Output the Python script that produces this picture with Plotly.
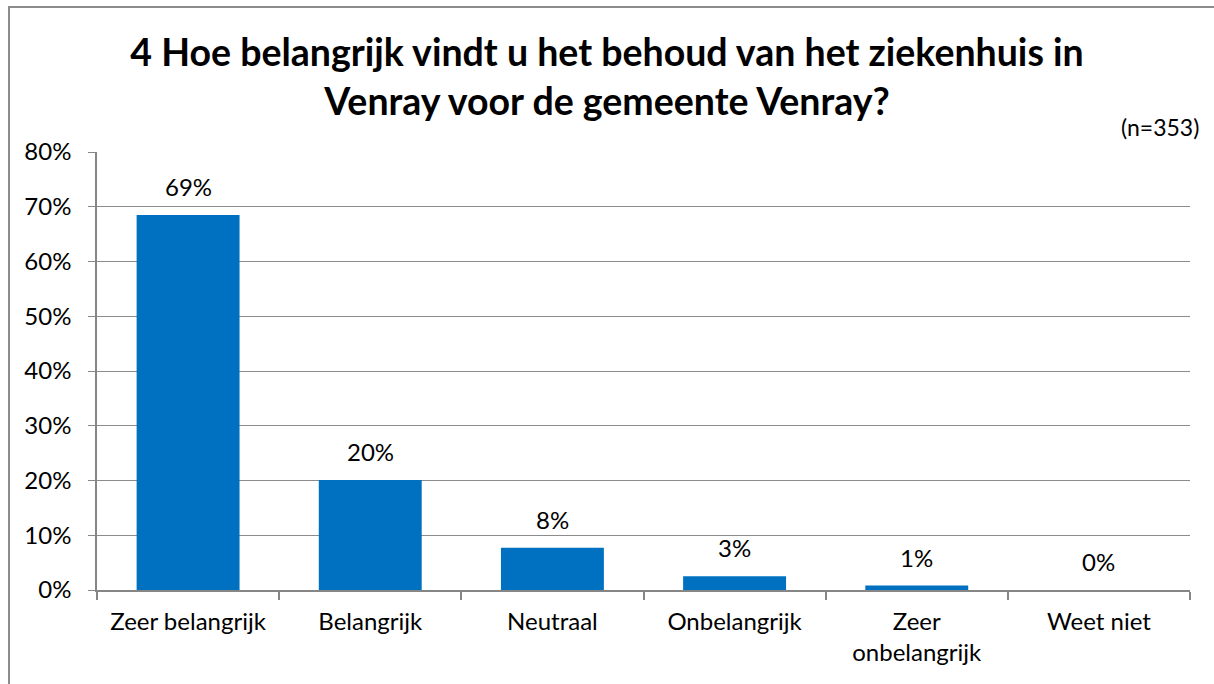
import plotly.graph_objects as go

categories = ["Zeer belangrijk", "Belangrijk", "Neutraal", "Onbelangrijk", "Zeer<br>onbelangrijk", "Weet niet"]
values = [68.5, 20.1, 7.7, 2.5, 0.8, 0.0]
labels = ["69%", "20%", "8%", "3%", "1%", "0%"]
tick_vals = [0, 10, 20, 30, 40, 50, 60, 70, 80]
tick_text = ["0%", "10%", "20%", "30%", "40%", "50%", "60%", "70%", "80%"]

W, H = 1214, 684
L, R, T, B = 97, 24, 152, 94
pw, ph = W - L - R, H - T - B

def px(x):
    return (x - L) / pw

def py(y):
    return (H - B - y) / ph

FONT = "Lato, Calibri, sans-serif"

fig = go.Figure()
fig.add_trace(go.Bar(
    x=categories, y=values,
    marker=dict(color="#0070C0", line=dict(width=0)),
    width=0.565,
))

annotations = [
    dict(x=c, y=v, text=t, xref="x", yref="y", showarrow=False,
         yanchor="bottom", xanchor="center", yshift=12,
         font=dict(size=24, family=FONT, color="#000000"))
    for c, v, t in zip(categories, values, labels)
]
annotations.append(dict(
    text="(n=353)", xref="paper", yref="paper",
    x=px(1201), y=py(127), xanchor="right", yanchor="middle",
    showarrow=False, font=dict(size=23, family=FONT, color="#000000"),
))

fig.update_layout(
    width=W, height=H,
    margin=dict(l=L, r=R, t=T, b=B),
    paper_bgcolor="white", plot_bgcolor="white",
    showlegend=False,
    font=dict(family=FONT, color="#000000"),
    title=dict(
        text="<b>4 Hoe belangrijk vindt u het behoud van het ziekenhuis in<br>Venray voor de gemeente Venray?</b>",
        x=0.5, xanchor="center", y=1 - 66 / H, yanchor="middle",
        font=dict(size=37.5, family=FONT, color="#000000"),
    ),
    xaxis=dict(
        showline=True, linecolor="#868686", linewidth=2,
        ticks="outside", tickson="boundaries", ticklen=8, tickcolor="#868686", tickwidth=1.5,
        tickfont=dict(size=24, family=FONT, color="#000000"),
        ticklabelstandoff=9,
        showgrid=False,
    ),
    yaxis=dict(
        range=[0, 80], tickvals=tick_vals, ticktext=tick_text,
        showgrid=True, gridcolor="#8c8c8c", gridwidth=1.3,
        showline=True, linecolor="#868686", linewidth=1.5,
        ticks="outside", ticklen=7, tickcolor="#868686",
        tickfont=dict(size=24, family=FONT, color="#000000"),
        ticklabelstandoff=12,
        zeroline=False,
    ),
    shapes=[dict(
        type="rect", xref="paper", yref="paper",
        x0=px(9), x1=px(1240), y0=py(720), y1=py(7),
        line=dict(color="#8c8c8c", width=2), fillcolor="rgba(0,0,0,0)", layer="below",
    )],
    annotations=annotations,
)

fig.write_html("out.html", config={"displayModeBar": False},
               post_script="document.body.style.margin='0';document.body.style.overflow='hidden';")
